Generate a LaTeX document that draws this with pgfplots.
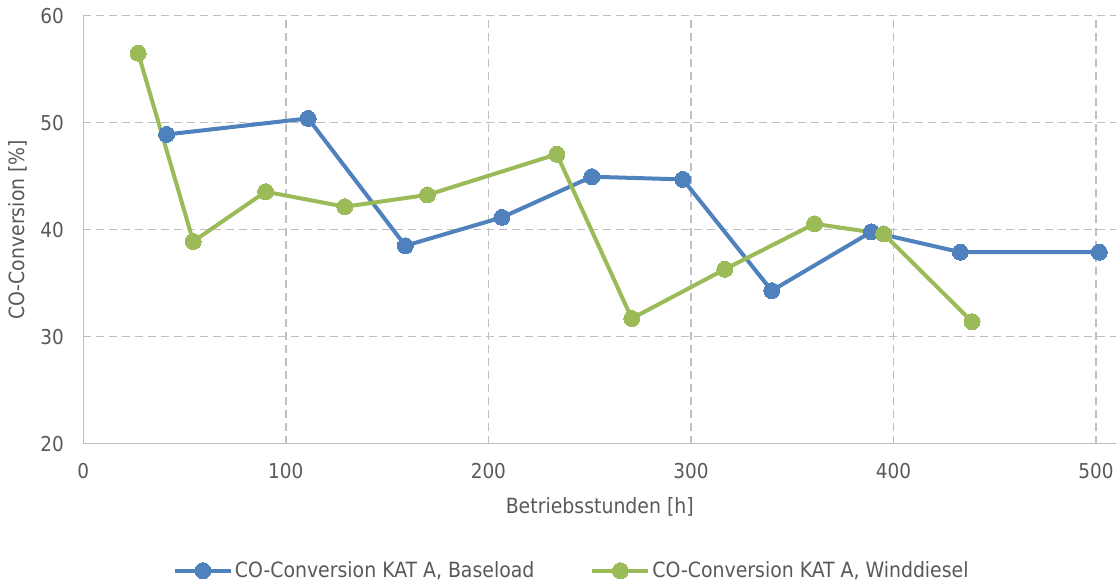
\documentclass[border=0pt]{standalone}
\usepackage{pgfplots}
\pgfplotsset{compat=1.18}
\usepackage{fontspec}
\setmainfont{DejaVu Sans Condensed}
\definecolor{txt}{RGB}{89,89,89}
\definecolor{gridc}{RGB}{191,191,191}
\definecolor{blu}{RGB}{79,129,189}
\definecolor{grn}{RGB}{155,187,89}
\begin{document}
\begin{tikzpicture}
\begin{axis}[
  scale only axis, width=1033pt, height=428pt,
  xmin=0, xmax=510, ymin=20, ymax=60,
  xtick={0,100,200,300,400,500}, ytick={20,30,40,50,60},
  grid=major, major grid style={gridc, dash pattern=on 8pt off 5pt, line width=1.5pt},
  axis line style={gridc, line width=1.5pt},
  axis x line*=bottom, axis y line*=left,
  x axis line style={-}, y axis line style={-},
  major tick length=0pt,
  tick label style={font=\fontsize{20.5}{24}\selectfont, text=txt},
  /pgf/number format/assume math mode=true,
  xticklabel style={yshift=-16pt},
  yticklabel style={xshift=-16pt},
  xlabel={Betriebsstunden [h]}, ylabel={CO-Conversion [\%]},
  label style={font=\fontsize{21}{25}\selectfont, text=txt},
  xlabel style={yshift=-12pt},
  ylabel style={yshift=6pt},
  legend style={at={(0.5,0)}, anchor=center, xshift=-28pt, yshift=-127pt, draw=none, font=\fontsize{21}{25}\selectfont, text=txt, legend columns=2, /tikz/every even column/.append style={column sep=54pt}},
  legend image code/.code={\draw[#1] (0pt,0pt) -- (56pt,0pt); \draw[#1, mark repeat=1] plot coordinates {(28pt,0pt)};},
]
\addplot[blu, line width=4pt, mark=*, mark size=8pt, mark options={solid, line width=0pt}] coordinates {
(41.1,48.9) (111.0,50.4) (159.0,38.5) (206.7,41.15) (251.1,44.95) (296.0,44.7) (339.9,34.3) (389.1,39.8) (433.0,37.9) (501.6,37.9)};
\addlegendentry{CO-Conversion KAT A, Baseload}
\addplot[grn, line width=4pt, mark=*, mark size=8pt, mark options={solid, line width=0pt}] coordinates {
(27.1,56.5) (54.3,38.9) (90.0,43.55) (129.1,42.15) (169.9,43.25) (233.8,47.05) (270.8,31.7) (316.7,36.3) (361.0,40.55) (395.2,39.6) (438.8,31.4)};
\addlegendentry{CO-Conversion KAT A, Winddiesel}
\end{axis}
\path[use as bounding box] ([shift={(-83.3pt,-140pt)}]current axis.south west) rectangle ([shift={(0.3pt,15.7pt)}]current axis.north east);
\end{tikzpicture}
\end{document}
